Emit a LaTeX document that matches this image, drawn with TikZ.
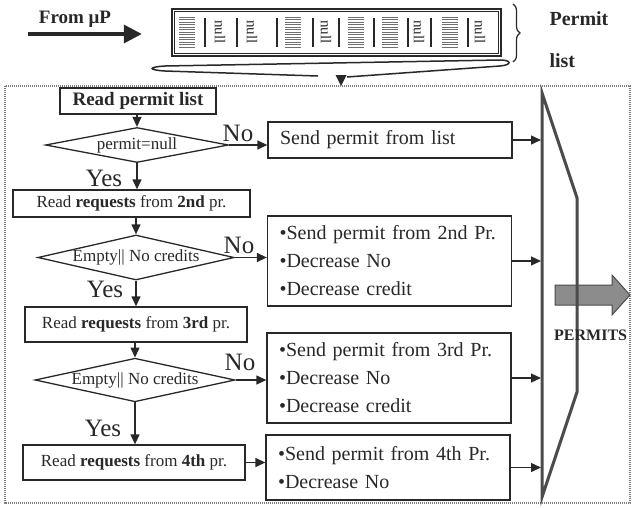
\documentclass[tikz,border=0pt]{standalone}
\usepackage{fontspec}
\setmainfont{Liberation Serif}
\usetikzlibrary{shapes,arrows.meta,positioning,calc,decorations.pathreplacing}
\definecolor{ink}{RGB}{40,40,40}
\definecolor{muxgray}{RGB}{75,75,75}
\definecolor{framegray}{RGB}{125,125,125}
\definecolor{hatchgray}{RGB}{110,110,110}
\definecolor{outfill}{RGB}{140,140,140}

\begin{document}
\begin{tikzpicture}[
            x=1pt, y=-1pt,
            every node/.style={text=ink},
            box/.style={rectangle, draw=ink, line width=1.3pt, inner sep=0pt},
            readbox/.style={box, font=\fontsize{17}{17}\selectfont},
            sendbox/.style={box, align=left, text width=220, inner xsep=12, font=\fontsize{20}{28}\selectfont},
            decision/.style={diamond, draw=ink, line width=1.3pt, aspect=4.5, inner sep=0pt, font=\fontsize{17}{17}\selectfont},
            answer/.style={font=\fontsize{25}{25}\selectfont},
            label/.style={font=\bfseries\fontsize{20}{20}\selectfont},
            arrow/.style={-{Triangle[length=10pt,width=9pt]}, line width=1.3pt, draw=ink},
            nullcell/.style={rotate=-90, font=\fontsize{15}{15}\selectfont}
        ]
            \useasboundingbox (0,0) rectangle (632,507);

            % permit list coming from the processor
            \node[label, font=\bfseries\fontsize{19}{19}\selectfont] (from) at (75,19) {From μP};
            \coordinate (src) at (28,34);
            \node[rectangle, draw=ink, line width=2.4pt, minimum width=329, minimum height=47, inner sep=0pt] (plist) at (336.5,32.5) {};
            \draw[ink, line width=1pt] ([shift={(3.5,3.5)}]plist.north west) rectangle ([shift={(-3.5,-3.5)}]plist.south east);
            \draw[-{Triangle[length=18pt,width=18pt]}, line width=3.5pt, ink] (src) -- ([xshift=-29]src -| plist.west);
            \foreach \sx in {205,237,277,313,339,374,408,431,468}
                \draw[ink, line width=1.8pt] (\sx,18) -- (\sx,47);
            \foreach \hx in {187,293,356,390,450}
                \foreach \hy in {17,19.5,...,47}
                    \draw[hatchgray, line width=0.8pt] (\hx-8,\hy) -- (\hx+8,\hy);
            \foreach \nx [count=\i] in {220,252,326,419,480}
                \node[nullcell] (null\i) at (\nx,32) {null};
            \draw[decorate, decoration={brace, amplitude=7pt}, ink, line width=1.2pt] (513,4) -- (513,62);
            \node[label, anchor=west] (permit) at (546,19) {Permit};
            \node[label, anchor=west] (list) at (546,61) {list};
            \draw[ink, line width=1.5pt] (318,76) -- (165,71) .. controls (148,70) and (148,67) .. (165,66) -- (500,60) .. controls (512,60) and (512,65) .. (500,66) -- (347,77);
            \fill[ink] (335.5,75) -- (346.5,75) -- (341,86) -- cycle;

            % scheduler frame
            \draw[framegray, line width=1.3pt, dash pattern=on 1.2pt off 0.8pt] (5,86) rectangle (630,503);

            % decisions
            \node[readbox, minimum width=156, minimum height=26, font=\bfseries\fontsize{19}{19}\selectfont] (readlist) at (138,101) {Read permit list};
            \node[decision, minimum width=183, minimum height=35] (dia1) at (137,145) {permit=null};
            \node[readbox, minimum width=237, minimum height=27] (read2) at (131.5,203.5) {Read \textbf{requests} from \textbf{2nd} pr.};
            \node[decision, minimum width=190, minimum height=45] (dia2) at (136,257.5) {Empty|| No credits};
            \node[readbox, minimum width=222, minimum height=35] (read3) at (136,324.5) {Read \textbf{requests} from \textbf{3rd} pr.};
            \node[decision, minimum width=200, minimum height=40] (dia3) at (135,380) {Empty|| No credits};
            \node[readbox, minimum width=222, minimum height=35] (read4) at (134,462.5) {Read \textbf{requests} from \textbf{4th} pr.};

            \node[answer] (no1) at (238,133) {No};
            \node[answer] (no2) at (239,245) {No};
            \node[answer] (no3) at (240,362) {No};
            \node[answer] (yes1) at (104,178) {Yes};
            \node[answer] (yes2) at (105,289) {Yes};
            \node[answer] (yes3) at (103,428) {Yes};

            % permits to send
            \node[sendbox, minimum height=36] (sendlist) at (390,140) {Send permit from list};
            \node[sendbox, minimum height=90] (send2) at (389.5,261) {•Send permit from 2nd Pr.\\•Decrease No\\•Decrease credit};
            \node[sendbox, minimum height=90] (send3) at (389,378) {•Send permit from 3rd Pr.\\•Decrease No\\•Decrease credit};
            \node[sendbox, minimum height=65] (send4) at (388,467.5) {•Send permit from 4th Pr.\\•Decrease No};

            % multiplexer
            \coordinate (muxin) at (541,300);
            \fill[outfill, draw=muxgray, line width=1pt] (555,285) -- (612,285) -- (612,275) -- (630,295) -- (612,315) -- (612,305) -- (555,305) -- cycle;
            \draw[muxgray, line width=3pt, line join=miter] (542,93) -- (577,198) -- (577,392) -- (542,497) -- cycle;
            \node[font=\bfseries\fontsize{16}{16}\selectfont, anchor=west, inner sep=0pt] (permits) at (554,335) {PERMITS};

            \draw[arrow] (dia1.north |- readlist.south) -- (dia1.north);
            \draw[arrow] (dia1.south) -- (dia1.south |- read2.north);
            \draw[arrow] (dia2.north |- read2.south) -- (dia2.north);
            \draw[arrow] (dia2.south) -- (dia2.south |- read3.north);
            \draw[arrow] (dia3.north |- read3.south) -- (dia3.north);
            \draw[arrow] (dia3.south) -- (dia3.south |- read4.north);
            \draw[arrow] (dia1.east) -- (dia1.east -| sendlist.west);
            \draw[arrow] (dia2.east) -- (dia2.east -| send2.west);
            \draw[arrow] (dia3.east) -- (dia3.east -| send3.west);
            \draw[arrow] (read4.east) -- (read4.east -| send4.west);
            \draw[arrow] (sendlist.east) -- (sendlist.east -| muxin);
            \draw[arrow] (send2.east) -- (send2.east -| muxin);
            \draw[arrow] (send3.east) -- (send3.east -| muxin);
            \draw[arrow] (send4.east) -- (send4.east -| muxin);
        \end{tikzpicture}
\end{document}
